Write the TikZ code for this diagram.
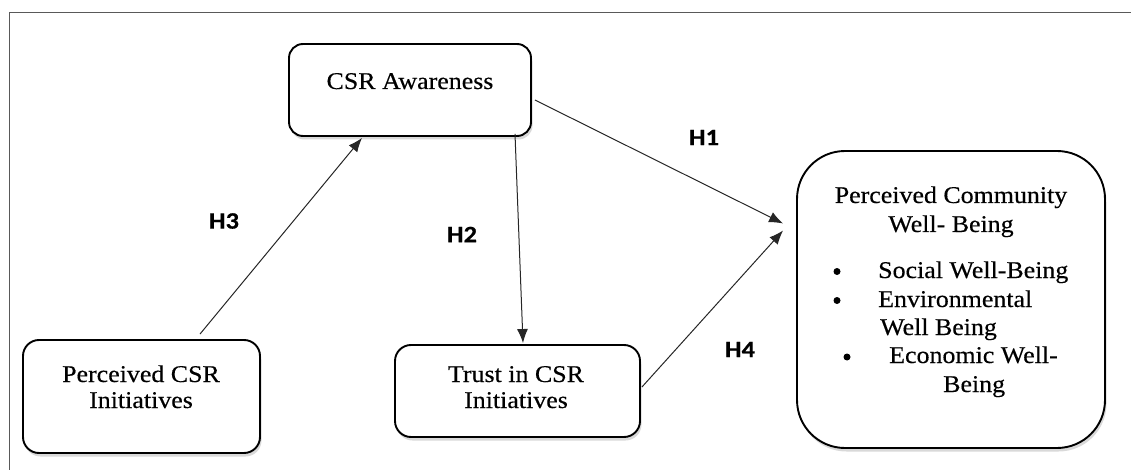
\documentclass[tikz,border=0pt]{standalone}
\usepackage{fontspec}
\setmainfont{Liberation Serif}[FakeStretch=1.08, FakeBold=0.35]
\newfontfamily\hfont{Carlito}[FakeStretch=1.12, FakeBold=0.5]
\usetikzlibrary{arrows.meta,shadows,calc}
\tikzset{
  box/.style={draw=black, line width=1.9pt, fill=white, inner sep=0pt,
    drop shadow={shadow xshift=1.5pt, shadow yshift=-3.5pt, opacity=0.3}},
  txt/.style={anchor=base, inner sep=0pt, font=\fontsize{24}{28}\selectfont},
  ltxt/.style={anchor=base west, inner sep=0pt, font=\fontsize{24}{28}\selectfont},
  dot/.style={circle, fill=black, inner sep=0pt, minimum size=7pt},
  hyp/.style={inner sep=0pt, font=\hfont\bfseries\fontsize{23.5}{26}\selectfont},
  link/.style={draw=black!85, line width=1pt, -{Latex[length=14pt,width=11pt]}},
}
\begin{document}
\begin{tikzpicture}[x=1pt,y=-1pt]
\useasboundingbox (0,0) rectangle (1131,470);
\draw[black!65, line width=1pt] (9,470) -- (9,13) -- (1131,13);

\node[box, rounded corners=14pt, minimum width=242pt, minimum height=92pt] (aw) at (410,90) {};
\node[box, rounded corners=16pt, minimum width=237pt, minimum height=113pt] (pci) at (141.5,396.5) {};
\node[box, rounded corners=16pt, minimum width=245pt, minimum height=92pt] (tr) at (517.5,391) {};
\node[box, rounded corners=48pt, minimum width=308pt, minimum height=297pt] (pcw) at (951,299.5) {};

\node[txt] (awt) at (410,89) {CSR Awareness};
\node[txt] (pcit1) at (141,382) {Perceived CSR};
\node[txt] (pcit2) at (141,408) {Initiatives};
\node[txt] (trt1) at (516,382) {Trust in CSR};
\node[txt] (trt2) at (516,408) {Initiatives};
\node[txt] (pcwt1) at (951,203) {Perceived Community};
\node[txt] (pcwt2) at (951,232) {Well- Being};
\node[dot] (b1) at (837,271.5) {};
\node[ltxt] (l1) at (878,278) {Social Well-Being};
\node[dot] (b2) at (837,300.5) {};
\node[ltxt] (l2) at (878,307) {Environmental};
\node[ltxt] (l3) at (880,335) {Well Being};
\node[dot] (b3) at (847,357) {};
\node[ltxt] (l4) at (889,363) {Economic Well-};
\node[ltxt] (l5) at (943,392) {Being};

\draw[link] ($(pci.north)+(58.5,-5)$) -- ($(aw.south)+(-48,1)$);
\draw[link] ($(aw.south)+(105,-3)$) -- ($(tr.north)+(5.5,-1)$);
\draw[link] ($(aw.east)+(3,10)$) -- ($(pcw.west)+(-13,-76)$);
\draw[link] ($(tr.east)+(1,-4)$) -- ($(pcw.west)+(-13,-69)$);

\node[hyp] (h1) at (704,137.5) {H1};
\node[hyp] (h2) at (462,234.5) {H2};
\node[hyp] (h3) at (224,221) {H3};
\node[hyp] (h4) at (740,349.5) {H4};
\end{tikzpicture}
\end{document}
